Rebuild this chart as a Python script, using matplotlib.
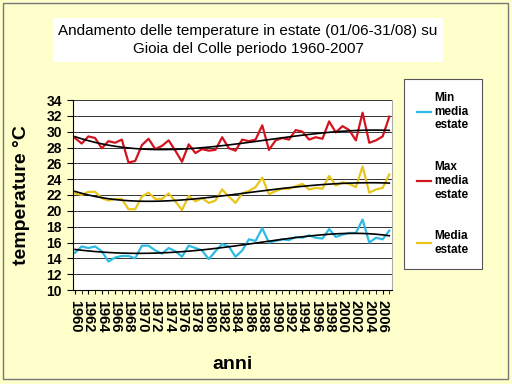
import numpy as np
import matplotlib
matplotlib.use("Agg")
import matplotlib.pyplot as plt
from matplotlib.patches import Rectangle

plt.rcParams["font.family"] = ["Liberation Sans", "DejaVu Sans"]

years = list(range(1960, 2008))

t_min = [14.7, 15.5, 15.3, 15.5, 14.9, 13.6, 14.1, 14.3, 14.3, 14.0,
         15.6, 15.6, 15.0, 14.6, 15.3, 14.9, 14.2, 15.6, 15.3, 15.0,
         13.9, 14.9, 15.8, 15.5, 14.2, 15.0, 16.4, 16.2, 17.8, 16.0,
         16.2, 16.4, 16.3, 16.7, 16.6, 16.9, 16.6, 16.5, 17.7, 16.7,
         17.0, 17.2, 17.2, 18.9, 16.0, 16.6, 16.4, 17.5]
t_max = [29.2, 28.5, 29.4, 29.2, 27.9, 28.8, 28.6, 29.0, 26.1, 26.3,
         28.3, 29.1, 27.8, 28.2, 28.9, 27.6, 26.2, 28.4, 27.3, 27.8,
         27.6, 27.7, 29.3, 27.9, 27.6, 29.0, 28.8, 29.0, 30.8, 27.7,
         28.9, 29.2, 29.0, 30.2, 30.0, 29.0, 29.3, 29.1, 31.3, 29.9,
         30.7, 30.2, 28.9, 32.4, 28.6, 28.9, 29.4, 31.9]
t_media = [22.2, 22.0, 22.4, 22.4, 21.6, 21.3, 21.5, 21.5, 20.2, 20.2,
           21.8, 22.3, 21.5, 21.5, 22.2, 21.2, 20.1, 21.9, 21.2, 21.6,
           21.0, 21.3, 22.7, 21.8, 21.0, 22.2, 22.5, 23.0, 24.2, 22.1,
           22.5, 22.8, 22.8, 23.1, 23.4, 22.7, 22.9, 22.8, 24.4, 23.2,
           23.6, 23.4, 23.0, 25.6, 22.3, 22.7, 22.9, 24.6]

series = [
    ("Min\nmedia\nestate", t_min, "#2EBBE3"),
    ("Max\nmedia\nestate", t_max, "#D3141E"),
    ("Media\nestate", t_media, "#E8C51A"),
]

BG = "#FFFFCC"

fig = plt.figure(figsize=(5.12, 3.84), dpi=100, facecolor=BG)
fig.patches.append(Rectangle((3 / 512, 5 / 384), 505 / 512, 376 / 384,
                             transform=fig.transFigure, fill=False,
                             edgecolor="#777777", lw=1.0))
ax = fig.add_axes([73 / 512, 1 - 290 / 384, 319 / 512, 190 / 384])
ax.set_facecolor("white")

x = np.array(years, dtype=float)
handles = []
for label, vals, color in series:
    h, = ax.plot(years, vals, color=color, lw=1.6, label=label)
    handles.append(h)
    # polynomial trendline, as in the spreadsheet
    xs = (x - x.mean()) / 10.0
    coef = np.polyfit(xs, vals, 4)
    ax.plot(years, np.polyval(coef, xs), color="black", lw=1.2)

ax.set_xlim(1959.7, 2007.4)
ax.set_ylim(10, 34)
ax.set_yticks(range(10, 35, 2))
ax.set_xticks(years, minor=True)
ax.set_xticks(years[::2])
ax.set_xticklabels([str(y) for y in years[::2]], rotation=270,
                   fontsize=10.5, fontweight="bold")
for lbl in ax.get_yticklabels():
    lbl.set_fontweight("bold")
    lbl.set_fontsize(10)
ax.tick_params(axis="x", which="both", direction="out", length=3, pad=4)
ax.tick_params(axis="y", direction="out", length=4, pad=4)
ax.grid(axis="y", color="#333333", lw=0.7)
ax.set_axisbelow(True)
ax.spines["top"].set_visible(False)
ax.spines["right"].set_color("#aaaaaa")

ax.set_ylabel("temperature °C", fontsize=14, fontweight="bold", labelpad=12)
ax.set_xlabel("anni", fontsize=14, fontweight="bold", labelpad=17)

leg = fig.legend(handles=handles, loc="upper left",
                 bbox_to_anchor=(398 / 512, 1 - 73 / 384),
                 prop={"weight": "bold", "size": 8.5}, frameon=True,
                 fancybox=False, edgecolor="#555555", framealpha=1,
                 handlelength=1.2, handletextpad=0.3, labelspacing=2.5,
                 borderpad=1.1)
leg.get_frame().set_linewidth(0.8)

fig.text(248 / 512, 1 - 40 / 384,
         "Andamento delle temperature in estate (01/06-31/08) su\n"
         "Gioia del Colle periodo 1960-2007",
         ha="center", va="center", fontsize=11, linespacing=1.45,
         bbox=dict(boxstyle="square,pad=0.35", facecolor="white",
                   edgecolor="none"))

fig.savefig("out.png", dpi=100, facecolor=BG)
